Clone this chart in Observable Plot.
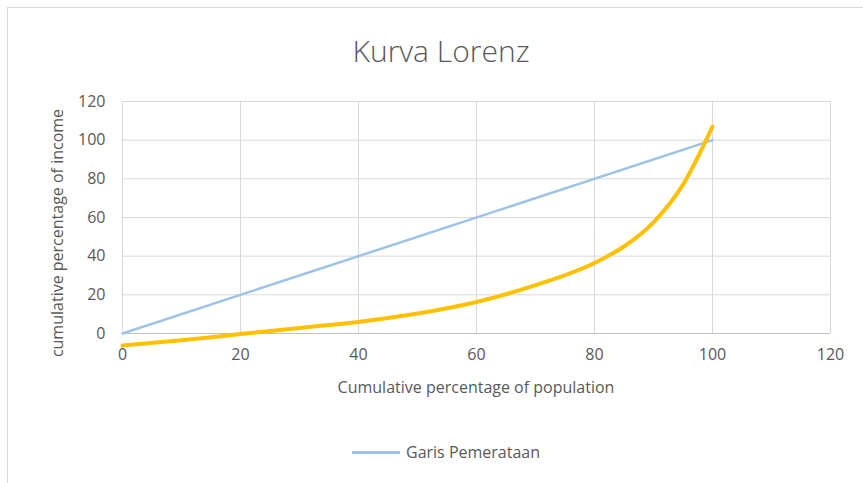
<!DOCTYPE html>
<html>
<head>
<meta charset="utf-8">
<script src="https://cdn.jsdelivr.net/npm/d3@7"></script>
<script src="https://cdn.jsdelivr.net/npm/@observablehq/plot@0.6"></script>
<style>
  html, body { margin: 0; padding: 0; background: #fff; }
  #wrap { position: relative; width: 863px; height: 483px; overflow: hidden; font-family: "Open Sans", "Noto Sans", sans-serif; color: #595959; }
  #border { position: absolute; left: 7px; top: 7px; width: 900px; height: 520px; border: 1px solid #d9d9d9; box-sizing: border-box; }
  #title { position: absolute; left: 441px; top: 50px; transform: translate(-50%, -50%); white-space: nowrap; font-size: 30px; font-weight: 300; color: #595959; }
  #chart { position: absolute; left: 0; top: 0; }
  #ylab { position: absolute; left: 57px; top: 233px; transform: translate(-50%, -50%) rotate(-90deg); white-space: nowrap; font-size: 16px; }
  #xlab { position: absolute; left: 476px; top: 387px; transform: translate(-50%, -50%); white-space: nowrap; font-size: 16px; }
  #legend { position: absolute; left: 352px; top: 441px; display: flex; align-items: center; font-size: 16px; }
  #legend .sw { width: 48px; height: 3px; background: #9dc3e6; margin-right: 6px; }
</style>
</head>
<body>
<div id="wrap">
  <div id="border"></div>
  <div id="title">Kurva Lorenz</div>
  <div id="chart"></div>
  <div id="ylab">cumulative percentage of income</div>
  <div id="xlab">Cumulative percentage of population</div>
  <div id="legend"><div class="sw"></div><span>Garis Pemerataan</span></div>
</div>
<script>
// Equality line (Garis Pemerataan)
const equalityX = [0, 100];
const equalityY = [0, 100];
// Lorenz curve
const lorenzX = [0, 10, 20, 30, 40, 50, 60, 70, 80, 85, 90, 95, 100];
const lorenzY = [-6.2, -3.5, -0.3, 2.9, 6.0, 10.3, 16.3, 25.0, 36.5, 45.0, 57.5, 77.0, 107.0];
// Axis ticks
const xTicks = [0, 20, 40, 60, 80, 100, 120];
const yTicks = [0, 20, 40, 60, 80, 100, 120];

const equality = equalityX.map((x, i) => ({x, y: equalityY[i]}));
const lorenz = lorenzX.map((x, i) => ({x, y: lorenzY[i]}));

const chart = Plot.plot({
  width: 863,
  height: 483,
  marginLeft: 122,
  marginRight: 33,
  marginTop: 101,
  marginBottom: 150,
  style: { fontFamily: '"Open Sans", "Noto Sans", sans-serif', fontSize: "16px", color: "#595959", background: "transparent", overflow: "visible" },
  x: { domain: [0, 120], ticks: xTicks, tickSize: 0, label: null },
  y: { domain: [0, 120], ticks: yTicks, tickSize: 0, label: null },
  marks: [
    Plot.gridX(xTicks, { stroke: "#d9d9d9", strokeOpacity: 1, strokeWidth: 1 }),
    Plot.gridY(yTicks, { stroke: "#d9d9d9", strokeOpacity: 1, strokeWidth: 1 }),
    Plot.ruleY([0], { stroke: "#bfbfbf", strokeWidth: 1 }),
    Plot.axisX(xTicks, { tickSize: 0, tickPadding: 15, fill: "#595959", fontSize: 16 }),
    Plot.axisY(yTicks, { tickSize: 0, tickPadding: 17, fill: "#595959", fontSize: 16 }),
    Plot.line(equality, { x: "x", y: "y", stroke: "#9dc3e6", strokeWidth: 2.5 }),
    Plot.line(lorenz, { x: "x", y: "y", stroke: "#ffc000", strokeWidth: 4, curve: "monotone-x" })
  ]
});
document.getElementById("chart").appendChild(chart);
</script>
</body>
</html>
